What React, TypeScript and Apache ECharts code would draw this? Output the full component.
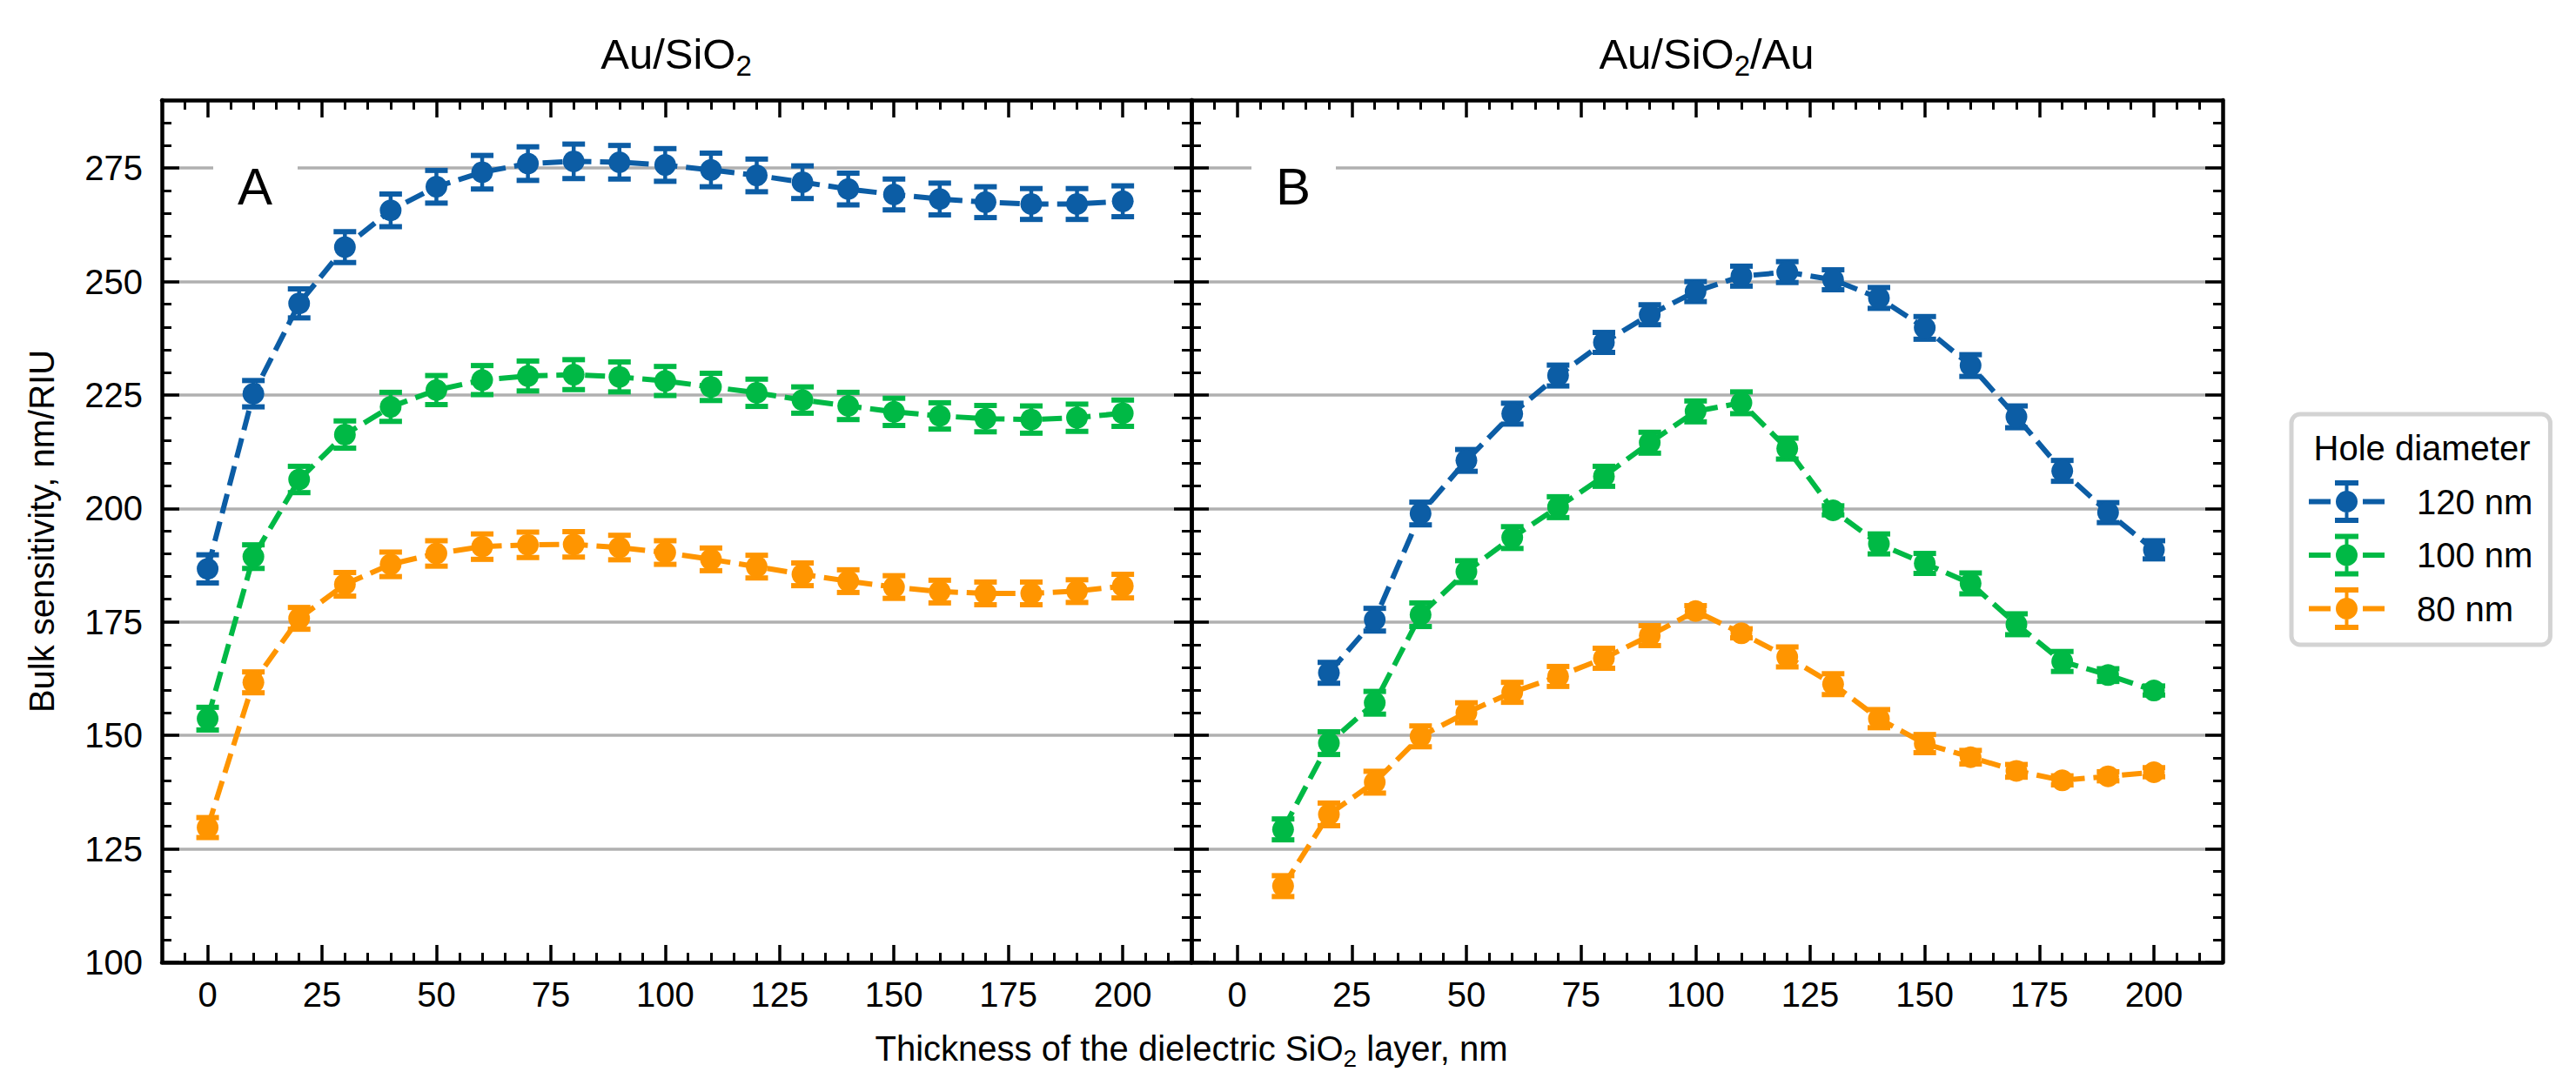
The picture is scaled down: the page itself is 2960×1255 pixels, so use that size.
import React, { useEffect, useRef } from 'react';
import * as echarts from 'echarts';

// thickness of the SiO2 layer, nm
const thicknessA = [0, 10, 20, 30, 40, 50, 60, 70, 80, 90, 100, 110, 120, 130, 140, 150, 160, 170, 180, 190, 200];
const thicknessB = [10, 20, 30, 40, 50, 60, 70, 80, 90, 100, 110, 120, 130, 140, 150, 160, 170, 180, 190, 200];
const thicknessB120 = [20, 30, 40, 50, 60, 70, 80, 90, 100, 110, 120, 130, 140, 150, 160, 170, 180, 190, 200];

// panel A: Au/SiO2
const a120 = [186.7, 225.3, 245.2, 257.6, 265.7, 270.9, 274.1, 276.0, 276.5, 276.3, 275.7, 274.6, 273.4, 271.9, 270.4, 269.2, 268.2, 267.5, 267.1, 267.1, 267.7];
const a120Err = [3.1, 2.9, 3.2, 3.4, 3.6, 3.6, 3.7, 3.7, 3.8, 3.7, 3.6, 3.7, 3.6, 3.6, 3.5, 3.4, 3.5, 3.4, 3.4, 3.4, 3.4];
const a100 = [153.7, 189.4, 206.4, 216.3, 222.4, 226.1, 228.3, 229.2, 229.5, 229.0, 228.1, 226.8, 225.5, 223.9, 222.6, 221.3, 220.4, 219.8, 219.6, 220.0, 221.0];
const a100Err = [2.5, 2.6, 2.9, 3.0, 3.2, 3.2, 3.2, 3.3, 3.3, 3.3, 3.2, 3.0, 3.0, 2.9, 3.0, 3.0, 2.9, 2.9, 3.0, 3.0, 2.9];
const a80 = [129.7, 161.7, 175.8, 183.3, 187.7, 190.1, 191.6, 192.0, 192.1, 191.4, 190.3, 188.8, 187.2, 185.5, 184.0, 182.7, 181.7, 181.3, 181.3, 181.8, 182.9];
const a80Err = [2.2, 2.3, 2.4, 2.6, 2.7, 2.8, 2.8, 2.8, 2.8, 2.7, 2.6, 2.5, 2.5, 2.5, 2.5, 2.5, 2.5, 2.5, 2.5, 2.5, 2.6];

// panel B: Au/SiO2/Au
const b120 = [163.8, 175.5, 198.9, 210.6, 220.9, 229.3, 236.6, 242.7, 247.8, 251.2, 252.1, 250.4, 246.4, 239.8, 231.5, 220.2, 208.3, 199.1, 190.9];
const b120Err = [2.3, 2.5, 2.5, 2.4, 2.3, 2.3, 2.2, 2.2, 2.2, 2.2, 2.3, 2.2, 2.3, 2.5, 2.4, 2.4, 2.3, 2.2, 2.0];
const b100 = [129.3, 148.3, 157.2, 176.6, 186.1, 193.6, 200.3, 207.1, 214.5, 221.4, 223.3, 213.2, 199.6, 192.2, 187.9, 183.5, 174.5, 166.3, 163.3, 159.9];
const b100Err = [2.3, 2.5, 2.5, 2.6, 2.4, 2.4, 2.3, 2.2, 2.3, 2.3, 2.4, 2.3, 1.0, 2.2, 2.2, 2.3, 2.3, 2.2, 1.4, 1.0];
const b80 = [116.8, 132.6, 139.7, 149.8, 155.0, 159.5, 163.0, 167.0, 172.0, 177.4, 172.5, 167.3, 161.3, 153.7, 148.2, 145.2, 142.2, 140.1, 141.0, 141.9];
const b80Err = [2.3, 2.5, 2.4, 2.3, 2.2, 2.2, 2.2, 2.2, 2.2, 1.2, 1.0, 2.2, 2.3, 2.0, 2.0, 1.5, 1.4, 1.0, 1.0, 1.0];

const xTicks = [0, 25, 50, 75, 100, 125, 150, 175, 200];
const yTicks = [100, 125, 150, 175, 200, 225, 250, 275];
const xMinor = [-5, 5, 10, 15, 20, 30, 35, 40, 45, 55, 60, 65, 70, 80, 85, 90, 95, 105, 110, 115, 120, 130, 135, 140, 145, 155, 160, 165, 170, 180, 185, 190, 195, 205, 210];
const yMinor = [105, 110, 115, 120, 130, 135, 140, 145, 155, 160, 165, 170, 180, 185, 190, 195, 205, 210, 215, 220, 230, 235, 240, 245, 255, 260, 265, 270, 280, 285];

const names = ['120 nm', '100 nm', '80 nm'];
const colors = ['#0C5DA5', '#00B945', '#FF9500'];

const FONT = 'Liberation Sans, Arial, Helvetica, sans-serif';

const legendIcon =
  'path://M0 21.5L25 21.5L25 27.5L0 27.5Z M62 21.5L87 21.5L87 27.5L62 27.5Z M41.5 0L45.5 0L45.5 49L41.5 49Z ' +
  'M30 0L57 0L57 6L30 6Z M30 43L57 43L57 49L30 49Z M31 24.5A12.5 12.5 0 1 1 56 24.5A12.5 12.5 0 1 1 31 24.5Z';

const tickLine = (w: number) => ({ lineStyle: { color: '#000', width: w } });

function gridAxes(g: number, labels: boolean) {
  const xBase = { type: 'value', gridIndex: g, min: -10, max: 215, splitLine: { show: false } };
  const yBase = { type: 'value', gridIndex: g, min: 100, max: 290, interval: 25 };
  const line = { show: true, onZero: false, lineStyle: { color: '#000', width: 4.5 } };
  const noLine = { show: false, onZero: false };
  const x = [
    {
      ...xBase, position: 'bottom', axisLine: line,
      axisTick: { inside: true, length: 20, customValues: xTicks, ...tickLine(3.5) },
      axisLabel: { customValues: xTicks, fontSize: 40, color: '#000', margin: 17, fontFamily: FONT },
    },
    {
      ...xBase, position: 'bottom', axisLine: noLine,
      axisTick: { inside: true, length: 11, customValues: xMinor, ...tickLine(3) },
      axisLabel: { show: false },
    },
    {
      ...xBase, position: 'top', axisLine: line,
      axisTick: { inside: true, length: 20, customValues: xTicks, ...tickLine(3.5) },
      axisLabel: { show: false },
    },
    {
      ...xBase, position: 'top', axisLine: noLine,
      axisTick: { inside: true, length: 11, customValues: xMinor, ...tickLine(3) },
      axisLabel: { show: false },
    },
  ];
  const y = [
    {
      ...yBase, position: 'left', axisLine: line,
      axisTick: { inside: true, length: 20, customValues: yTicks, ...tickLine(3.5) },
      axisLabel: labels
        ? { customValues: yTicks, fontSize: 40, color: '#000', margin: 22, fontFamily: FONT }
        : { show: false },
      splitLine: { show: true, lineStyle: { color: '#b0b0b0', width: 3.5 } },
      ...(labels
        ? {
            name: 'Bulk sensitivity, nm/RIU',
            nameLocation: 'middle',
            nameGap: 118,
            nameTextStyle: { fontSize: 40, color: '#000', fontFamily: FONT },
          }
        : {}),
    },
    {
      ...yBase, position: 'left', axisLine: noLine,
      axisTick: { inside: true, length: 11, customValues: yMinor, ...tickLine(3) },
      axisLabel: { show: false }, splitLine: { show: false },
    },
    {
      ...yBase, position: 'right', axisLine: line,
      axisTick: { inside: true, length: 20, customValues: yTicks, ...tickLine(3.5) },
      axisLabel: { show: false }, splitLine: { show: false },
    },
    {
      ...yBase, position: 'right', axisLine: noLine,
      axisTick: { inside: true, length: 11, customValues: yMinor, ...tickLine(3) },
      axisLabel: { show: false }, splitLine: { show: false },
    },
  ];
  return { x, y };
}

function lineSeries(name: string, color: string, g: number, xs: number[], ys: number[]) {
  return {
    name,
    type: 'line',
    xAxisIndex: g * 4,
    yAxisIndex: g * 4,
    data: xs.map((x, i) => [x, ys[i]]),
    symbol: 'circle',
    symbolSize: 25,
    itemStyle: { color },
    lineStyle: { color, width: 6, type: [23, 10] },
    z: 3,
  };
}

function errorSeries(name: string, color: string, g: number, xs: number[], ys: number[], errs: number[]) {
  return {
    name,
    type: 'custom',
    xAxisIndex: g * 4,
    yAxisIndex: g * 4,
    data: xs.map((x, i) => [x, ys[i] - errs[i], ys[i] + errs[i]]),
    encode: { x: 0, y: [1, 2] },
    z: 3,
    renderItem: (_params: any, api: any) => {
      const top = api.coord([api.value(0), api.value(2)]);
      const bot = api.coord([api.value(0), api.value(1)]);
      const hw = 13;
      return {
        type: 'group',
        children: [
          { type: 'line', shape: { x1: top[0], y1: top[1], x2: bot[0], y2: bot[1] }, style: { stroke: color, lineWidth: 4.5 } },
          { type: 'line', shape: { x1: top[0] - hw, y1: top[1], x2: top[0] + hw, y2: top[1] }, style: { stroke: color, lineWidth: 6 } },
          { type: 'line', shape: { x1: bot[0] - hw, y1: bot[1], x2: bot[0] + hw, y2: bot[1] }, style: { stroke: color, lineWidth: 6 } },
        ],
      };
    },
  };
}

function subText(x: number, y: number, pre: string, post: string, size: number, sub: number, lh: number, subLh: number) {
  return {
    type: 'text',
    x,
    y,
    z: 10,
    style: {
      text: `{a|${pre}}{s|2}` + (post ? `{a|${post}}` : ''),
      align: 'center',
      verticalAlign: 'middle',
      rich: {
        a: { fontSize: size, fontFamily: FONT, fill: '#000', lineHeight: lh, verticalAlign: 'middle' },
        s: { fontSize: sub, fontFamily: FONT, fill: '#000', lineHeight: subLh, verticalAlign: 'bottom' },
      },
    },
  };
}

function panelLetter(cx: number, letter: string) {
  return [
    { type: 'rect', z: 1, shape: { x: cx - 48, y: 180, width: 97, height: 70 }, style: { fill: '#fff' } },
    {
      type: 'text', z: 2, x: cx, y: 214,
      style: { text: letter, fontSize: 60, fontFamily: FONT, fill: '#000', align: 'center', verticalAlign: 'middle' },
    },
  ];
}

export default function App() {
  const ref = useRef<HTMLDivElement>(null);
  useEffect(() => {
    if (!ref.current) return;
    const chart = echarts.init(ref.current, null, { renderer: 'svg' });
    const axA = gridAxes(0, true);
    const axB = gridAxes(1, false);
    const aVals = [a120, a100, a80];
    const aErrs = [a120Err, a100Err, a80Err];
    const bVals = [b120, b100, b80];
    const bErrs = [b120Err, b100Err, b80Err];
    const bXs = [thicknessB120, thicknessB, thicknessB];
    chart.setOption({
      animation: false,
      backgroundColor: '#fff',
      textStyle: { fontFamily: FONT },
      grid: [
        { left: 186, top: 115, width: 1183, height: 991 },
        { left: 1369, top: 115, width: 1185, height: 991 },
      ],
      xAxis: [...axA.x, ...axB.x],
      yAxis: [...axA.y, ...axB.y],
      legend: {
        data: names.map((n) => ({ name: n, icon: legendIcon })),
        orient: 'vertical',
        left: 2633,
        top: 476,
        padding: [76, 20, 17, 20],
        itemWidth: 87,
        itemHeight: 49,
        itemGap: 12.5,
        borderColor: '#d3d3d3',
        borderWidth: 5,
        borderRadius: 10,
        backgroundColor: '#fff',
        selectedMode: false,
        itemStyle: { borderWidth: 0 },
        textStyle: { fontSize: 40, color: '#000', fontFamily: FONT, padding: [0, 0, 0, 32] },
      },
      graphic: [
        subText(777, 62, 'Au/SiO', '', 49, 33, 60, 34),
        subText(1961, 62, 'Au/SiO', '/Au', 49, 33, 60, 34),
        subText(1369, 1205, 'Thickness of the dielectric SiO', ' layer, nm', 40, 28, 50, 29),
        ...panelLetter(293, 'A'),
        ...panelLetter(1486, 'B'),
        {
          type: 'text', z: 10, x: 2783, y: 515,
          style: { text: 'Hole diameter', fontSize: 40, fontFamily: FONT, fill: '#000', align: 'center', verticalAlign: 'middle' },
        },
      ],
      series: [
        ...names.map((n, k) => lineSeries(n, colors[k], 0, thicknessA, aVals[k])),
        ...names.map((n, k) => lineSeries(n, colors[k], 1, bXs[k], bVals[k])),
        ...names.map((n, k) => errorSeries(n, colors[k], 0, thicknessA, aVals[k], aErrs[k])),
        ...names.map((n, k) => errorSeries(n, colors[k], 1, bXs[k], bVals[k], bErrs[k])),
      ],
    });
    return () => chart.dispose();
  }, []);
  return <div ref={ref} style={{ position: 'absolute', left: 0, top: 0, width: 2960, height: 1255 }} />;
}
